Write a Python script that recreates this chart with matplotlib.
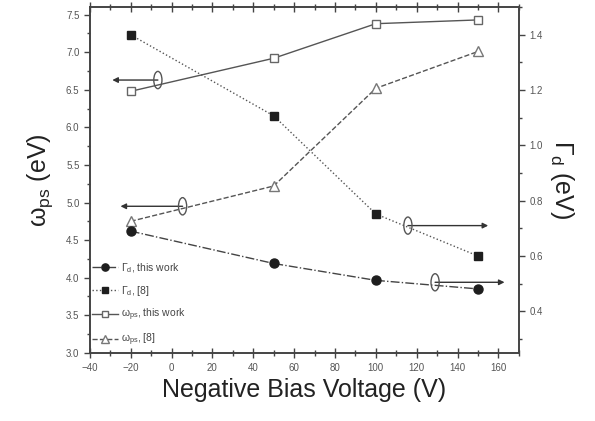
import numpy as np
import matplotlib.pyplot as plt
from matplotlib.patches import Ellipse
from matplotlib.ticker import MultipleLocator

plt.rcParams['font.family'] = ['Liberation Sans', 'DejaVu Sans']
plt.rcParams['mathtext.default'] = 'regular'

# Data
bias = [-20, 50, 100, 150]
gamma_this = [0.69, 0.573, 0.512, 0.481]      # right axis
gamma_ref = [1.40, 1.107, 0.752, 0.60]        # right axis
omega_this = [6.48, 6.92, 7.38, 7.43]         # left axis
omega_ref = [4.75, 5.22, 6.52, 7.01]          # left axis

fig = plt.figure(figsize=(5.95, 4.21), dpi=100)
ax = fig.add_axes([0.151, 0.162, 0.721, 0.821])
ax2 = ax.twinx()

c = '#1e1e1e'
l3, = ax.plot(bias, omega_this, '-', color='#555555', lw=1.0, marker='s', ms=5.5,
              mfc='white', mec='#666666', label='ω$_{ps}$, this work')
l4, = ax.plot(bias, omega_ref, '--', color='#555555', lw=1.0, marker='^', ms=6.5,
              mfc='white', mec='#777777', label='ω$_{ps}$, [8]')
l1, = ax2.plot(bias, gamma_this, '-.', color='#444444', lw=1.0, marker='o', ms=6.5,
               mfc=c, mec=c, label='Γ$_d$, this work')
l2, = ax2.plot(bias, gamma_ref, ':', color='#555555', lw=1.0, marker='s', ms=5.5,
               mfc=c, mec=c, label='Γ$_d$, [8]')

ax.set_xlim(-40, 170)
ax.set_ylim(3.0, 7.6)
ax2.set_ylim(0.25, 1.5)

ax.xaxis.set_major_locator(MultipleLocator(20))
ax.xaxis.set_minor_locator(MultipleLocator(10))
ax.yaxis.set_major_locator(MultipleLocator(0.5))
ax.yaxis.set_minor_locator(MultipleLocator(0.25))
ax2.yaxis.set_major_locator(MultipleLocator(0.2))
ax2.yaxis.set_minor_locator(MultipleLocator(0.1))

tc = '#555555'
for a in (ax, ax2):
    for s in a.spines.values():
        s.set_color('#444444')
        s.set_linewidth(1.2)
    a.tick_params(which='both', direction='out', labelsize=7, colors='#444444',
                  labelcolor=tc, width=1.0)
    a.tick_params(which='major', length=4)
    a.tick_params(which='minor', length=2.5)

# x ticks on bottom and top, crossing the spine
ax.tick_params(axis='x', which='both', top=True, direction='inout')
ax.tick_params(axis='x', which='major', length=7)
ax.tick_params(axis='x', which='minor', length=4)

ax.set_xlabel('Negative Bias Voltage (V)', fontsize=18, color='#222222', labelpad=4)
ax.set_ylabel('ω$_{ps}$ (eV)', fontsize=18, color='#222222', labelpad=8)
ax2.set_ylabel('Γ$_d$ (eV)', fontsize=18, color='#222222', rotation=270,
               labelpad=24)

# ellipses + arrows marking axes
def mark(a, xc, yc, xt, w, h):
    a.add_patch(Ellipse((xc, yc), w, h, fill=False, ec='#555555', lw=1.0, zorder=5))
    a.annotate('', xy=(xt, yc), xytext=(xc, yc),
               arrowprops=dict(arrowstyle='-|>', color='#333333', lw=1.0,
                               mutation_scale=8, shrinkA=0, shrinkB=0))

mark(ax, -6.7, 6.63, -29, 4, 0.23)
mark(ax, 5.4, 4.95, -25, 4, 0.23)
mark(ax2, 115.7, 0.71, 155, 4, 0.062)
mark(ax2, 129, 0.505, 163, 4, 0.062)

leg = ax.legend(handles=[l1, l2, l3, l4], loc='lower left', fontsize=7.5,
                frameon=False, handlelength=2.5, handletextpad=0.3,
                labelspacing=0.85, borderaxespad=0.2, markerscale=0.8,
                bbox_to_anchor=(-0.01, -0.005))
for t in leg.get_texts():
    t.set_color('#444444')

fig.savefig('out.png', dpi=100)
